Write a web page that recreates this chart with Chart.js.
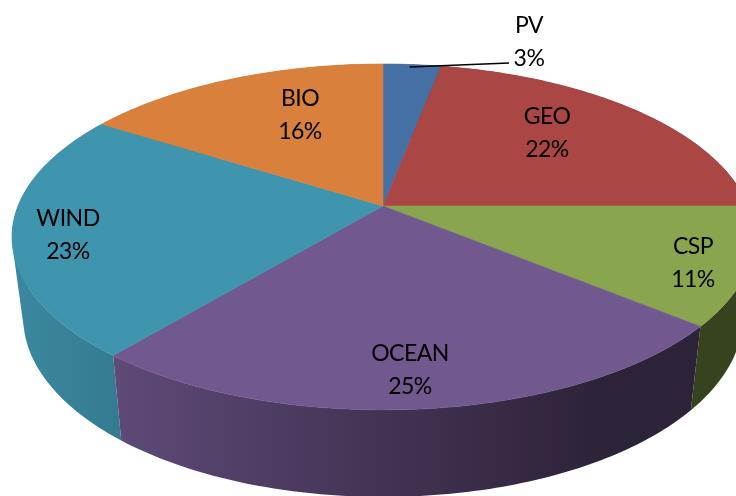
<!DOCTYPE html>
<html>
<head>
<meta charset="utf-8">
<title>Renewable energy shares</title>
<script src="https://cdn.jsdelivr.net/npm/chart.js@4"></script>
<style>
  html, body { margin: 0; padding: 0; background: #fff; overflow: hidden; }
  canvas { display: block; }
</style>
</head>
<body>
<canvas id="pie" width="736" height="496"></canvas>
<script>
const categories = ["PV", "GEO", "CSP", "OCEAN", "WIND", "BIO"];
const shares = [3, 22, 11, 25, 23, 16];
const sliceColors = ["#4470a5", "#aa4643", "#89a54e", "#71588f", "#3f94ae", "#d9813c"];

// text centres of the first label line
const labelSpots = [[529, 26], [547, 117], [693, 247], [410, 354], [68, 219], [300, 99]];
const lineGap = 33;

// the pie is seen in perspective, so its hub is not the middle of the ellipse
const view = { cx: 383, tilt: 0.179, topY: 206, topA: 365, topB: 167.4, lowY: 285, lowA: 354, lowB: 174 };

// darkening of the side wall from left to right: [x, factor]
const wallLight = [[0, 0.93], [112, 0.84], [383, 0.58], [600, 0.40], [736, 0.40]];

function project(angle, r, onBottom) {
  const u = Math.cos(angle) * r, v = Math.sin(angle) * r;
  const w = 1 - view.tilt * v;
  return {
    x: view.cx + (onBottom ? view.lowA : view.topA) * u / w,
    y: (onBottom ? view.lowY : view.topY) + (onBottom ? view.lowB : view.topB) * v / w
  };
}

function shade(hex, f) {
  const n = parseInt(hex.slice(1), 16);
  const c = [n >> 16, (n >> 8) & 255, n & 255].map(function (v) { return Math.round(v * f); });
  return "rgb(" + c.join(",") + ")";
}

function stepsFor(from, to) {
  return Math.max(2, Math.ceil(Math.abs(to - from) * 60));
}

function traceTopRim(ctx, from, to) {
  const steps = stepsFor(from, to);
  for (let i = 0; i <= steps; i++) {
    const p = project(from + (to - from) * i / steps, 1, false);
    ctx.lineTo(p.x, p.y);
  }
}

// wall as a run of quads all wound the same way, so the part where the rim
// folds over at the far left still gets filled
function traceWall(ctx, from, to) {
  const steps = stepsFor(from, to);
  for (let i = 0; i < steps; i++) {
    const a0 = from + (to - from) * i / steps;
    const a1 = from + (to - from) * (i + 1) / steps;
    const q = [project(a0, 1, false), project(a1, 1, false), project(a1, 1, true), project(a0, 1, true)];
    let area = 0;
    q.forEach(function (p, k) {
      const n = q[(k + 1) % 4];
      area += p.x * n.y - n.x * p.y;
    });
    if (area < 0) q.reverse();
    ctx.moveTo(q[0].x, q[0].y);
    ctx.lineTo(q[1].x, q[1].y);
    ctx.lineTo(q[2].x, q[2].y);
    ctx.lineTo(q[3].x, q[3].y);
    ctx.closePath();
  }
}

// the arcs keep the angles the library worked out, only the drawing is tilted
const tiltedPie = {
  id: "tiltedPie",
  beforeDatasetDraw(chart) {
    const ctx = chart.ctx;
    const arcs = chart.getDatasetMeta(0).data;

    const order = arcs.map(function (a, i) { return i; }).sort(function (i, j) {
      const mid = function (a) { return Math.sin((a.startAngle + a.endAngle) / 2); };
      return mid(arcs[i]) - mid(arcs[j]);
    });

    ctx.save();
    order.forEach(function (i) {
      const arc = arcs[i];
      const grad = ctx.createLinearGradient(0, 0, chart.width, 0);
      wallLight.forEach(function (s) {
        grad.addColorStop(s[0] / chart.width, shade(sliceColors[i], s[1]));
      });
      ctx.beginPath();
      traceWall(ctx, arc.startAngle, arc.endAngle);
      ctx.fillStyle = grad;
      ctx.fill();
    });

    arcs.forEach(function (arc, i) {
      const hub = project(0, 0, false);
      ctx.beginPath();
      ctx.moveTo(hub.x, hub.y);
      traceTopRim(ctx, arc.startAngle, arc.endAngle);
      ctx.closePath();
      ctx.fillStyle = sliceColors[i];
      ctx.strokeStyle = sliceColors[i];
      ctx.lineWidth = 0.6;
      ctx.fill();
      ctx.stroke();
    });

    // PV is too thin for its label, so it gets a leader line
    const pv = arcs[0];
    const from = project((pv.startAngle + pv.endAngle) / 2, 0.98, false);
    ctx.beginPath();
    ctx.moveTo(from.x - 2, from.y);
    ctx.lineTo(labelSpots[0][0] - 20, labelSpots[0][1] + lineGap + 4);
    ctx.strokeStyle = "#000";
    ctx.lineWidth = 1.5;
    ctx.stroke();
    ctx.restore();
    return false;
  },
  afterDatasetsDraw(chart) {
    const ctx = chart.ctx;
    ctx.save();
    ctx.font = '23px Lato, "Open Sans", sans-serif';
    ctx.letterSpacing = "-0.5px";
    ctx.fillStyle = "#000";
    ctx.textAlign = "center";
    ctx.textBaseline = "middle";
    categories.forEach(function (name, i) {
      const spot = labelSpots[i];
      ctx.fillText(name, spot[0], spot[1]);
      ctx.fillText(shares[i] + "%", spot[0], spot[1] + lineGap);
    });
    ctx.restore();
  }
};

new Chart(document.getElementById("pie"), {
  type: "pie",
  data: {
    labels: categories,
    datasets: [{ data: shares, backgroundColor: sliceColors, borderWidth: 0 }]
  },
  options: {
    responsive: false,
    devicePixelRatio: 1,
    animation: false,
    plugins: { legend: { display: false }, tooltip: { enabled: false } }
  },
  plugins: [tiltedPie]
});
</script>
</body>
</html>
